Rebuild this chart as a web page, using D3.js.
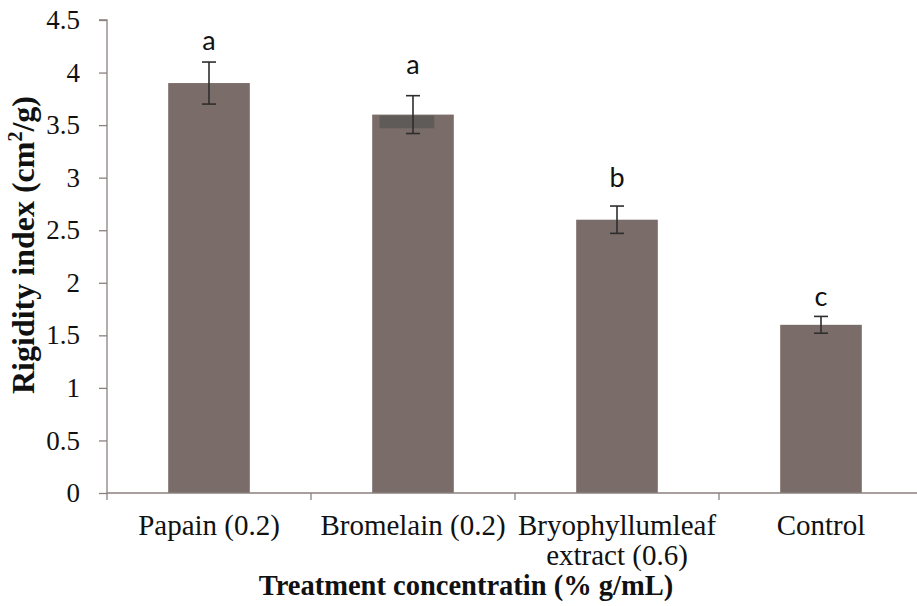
<!DOCTYPE html>
<html>
<head>
<meta charset="utf-8">
<script src="https://cdn.jsdelivr.net/npm/d3@7"></script>
<style>
  html, body { margin: 0; padding: 0; background: #fff; }
  svg { display: block; }
</style>
</head>
<body>
<svg id="chart" width="917" height="606"></svg>
<script>
// ---- data ----
const categories = ["Papain (0.2)", "Bromelain (0.2)", "Bryophyllumleaf|extract (0.6)", "Control"];
const values = [3.9, 3.6, 2.6, 1.6];
const errors = [0.2, 0.18, 0.13, 0.08];
const letters = ["a", "a", "b", "c"];
const letterAt = [4.21, 3.99, 2.91, 1.78];
const yTicks = [0, 0.5, 1, 1.5, 2, 2.5, 3, 3.5, 4, 4.5];
// dark overlay seen on top of the Bromelain bar (value range)
const overlayCat = 1;
const overlayRange = [3.47, 3.6];

(function () {
const svg = d3.select("#chart");
const mLeft = 107, mRight = 923, mTop = 20, mBottom = 493;
const axisColor = "#8a817e";
const barColor = "#7a6c68";
const serif = "'Liberation Serif', 'Times New Roman', serif";

const x = d3.scaleBand().domain(categories).range([mLeft, mRight]).paddingInner(0.6).paddingOuter(0.3);
const y = d3.scaleLinear().domain([0, 4.5]).range([mBottom, mTop]);

// bars
svg.append("g").selectAll("rect").data(categories).join("rect")
  .attr("x", d => x(d))
  .attr("width", x.bandwidth())
  .attr("y", (d, i) => y(values[i]))
  .attr("height", (d, i) => y(0) - y(values[i]))
  .attr("fill", barColor);

// overlay
const oc = categories[overlayCat];
svg.append("rect")
  .attr("x", x(oc) + x.bandwidth() * 0.09)
  .attr("width", x.bandwidth() * 0.67)
  .attr("y", y(overlayRange[1]) + 1)
  .attr("height", y(overlayRange[0]) - y(overlayRange[1]) - 1)
  .attr("fill", "#5e5b59");

// error bars
const eg = svg.append("g").attr("stroke", "#2e2e2e").attr("stroke-width", 1.6).attr("fill", "none");
categories.forEach((c, i) => {
  const cx = x(c) + x.bandwidth() / 2;
  const y1 = y(values[i] + errors[i]), y2 = y(values[i] - errors[i]);
  eg.append("line").attr("x1", cx).attr("x2", cx).attr("y1", y1).attr("y2", y2);
  eg.append("line").attr("x1", cx - 7).attr("x2", cx + 7).attr("y1", y1).attr("y2", y1);
  eg.append("line").attr("x1", cx - 7).attr("x2", cx + 7).attr("y1", y2).attr("y2", y2);
});

// letters
svg.append("g").selectAll("text").data(categories).join("text")
  .attr("x", d => x(d) + x.bandwidth() / 2)
  .attr("y", (d, i) => y(letterAt[i]))
  .attr("text-anchor", "middle")
  .attr("font-family", "Lato, 'Open Sans', sans-serif")
  .attr("font-size", 27)
  .attr("fill", "#111")
  .text((d, i) => letters[i]);

// y axis
const yAxis = d3.axisLeft(y).tickValues(yTicks).tickSize(8).tickPadding(19).tickFormat(d3.format("~g"));
const yg = svg.append("g").attr("transform", `translate(${mLeft},0)`).call(yAxis);
yg.select(".domain").attr("stroke", axisColor).attr("stroke-width", 1.3).attr("d", `M-8,${mTop}H0V${mBottom}`);
yg.selectAll(".tick line").attr("stroke", axisColor).attr("stroke-width", 1.3);
yg.selectAll(".tick text").attr("font-family", serif)
  .attr("font-size", 27).attr("fill", "#111");

// x axis
const xg = svg.append("g");
xg.append("line").attr("x1", mLeft).attr("x2", mRight).attr("y1", mBottom).attr("y2", mBottom)
  .attr("stroke", axisColor).attr("stroke-width", 1.3);
const bounds = d3.range(categories.length).map(i => x.range()[0] + i * x.step());
xg.selectAll("line.tk").data(bounds).join("line").attr("class", "tk")
  .attr("x1", d => d).attr("x2", d => d).attr("y1", mBottom).attr("y2", mBottom + 7)
  .attr("stroke", axisColor).attr("stroke-width", 1.3);
categories.forEach(c => {
  const lines = c.split("|");
  const cx = x(c) + x.bandwidth() / 2;
  const t = xg.append("text")
    .attr("x", cx)
    .attr("y", 535)
    .attr("text-anchor", "middle")
    .attr("font-family", serif)
    .attr("font-size", 29).attr("fill", "#111");
  lines.forEach((l, k) => t.append("tspan").attr("x", cx).attr("dy", k === 0 ? 0 : 30).text(l));
});

// axis titles
svg.append("text")
  .attr("x", 466).attr("y", 595)
  .attr("text-anchor", "middle")
  .attr("font-family", serif)
  .attr("font-weight", "bold").attr("font-size", 28.5).attr("fill", "#111")
  .text("Treatment concentratin (% g/mL)");

const yt = svg.append("text")
  .attr("transform", `translate(34,245) rotate(-90)`)
  .attr("text-anchor", "middle")
  .attr("font-family", serif)
  .attr("font-weight", "bold").attr("font-size", 32).attr("fill", "#111");
yt.append("tspan").text("Rigidity index (cm");
yt.append("tspan").attr("font-size", 20).attr("dy", -12).text("2");
yt.append("tspan").attr("dy", 12).text("/g)");
})();
</script>
</body>
</html>
